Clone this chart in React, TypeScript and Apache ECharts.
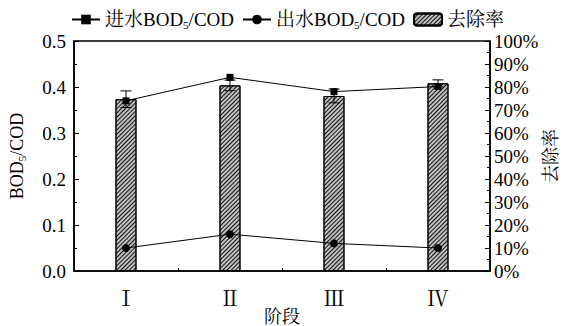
import React, { useEffect, useRef } from "react";
import * as echarts from "echarts";

const categories = ["Ⅰ", "Ⅱ", "Ⅲ", "Ⅳ"];
const inletRatio = [0.37, 0.421, 0.39, 0.401];
const outletRatio = [0.05, 0.08, 0.06, 0.05];
const removalRate = [74.7, 80.7, 76.1, 81.6];
const removalErr = [3.6, 2.3, 3.0, 1.5];

const seriesNames = ["进水BOD5/COD", "出水BOD5/COD", "去除率"];

const FONT = "'Times New Roman', 'Liberation Serif', 'Noto Serif CJK SC', 'Noto Sans CJK SC', serif";

export default function App() {
  const ref = useRef<HTMLDivElement>(null);
  useEffect(() => {
    document.body.style.margin = "0";
    const chart = echarts.init(ref.current!, null, { renderer: "svg" });
    const errData = removalRate.map((v, i) => [i, v - removalErr[i], v + removalErr[i]]);
    const subRich = {
      sub: { fontSize: 11, fontFamily: FONT, color: "#000", padding: [10, 0, 0, 0] },
    };
    const option: any = {
      animation: false,
      backgroundColor: "#fff",
      textStyle: { fontFamily: FONT, color: "#000" },
      grid: {
        left: 74,
        right: 77,
        top: 41,
        bottom: 55,
        containLabel: false,
        outerBoundsMode: "none",
        show: true,
        borderColor: "#000",
        borderWidth: 1.5,
      },
      legend: {
        data: seriesNames,
        left: 66,
        top: 5,
        itemWidth: 28,
        itemHeight: 12,
        itemGap: 8,
        textStyle: { fontSize: 19, fontFamily: FONT, color: "#000", rich: subRich },
        formatter: (name: string) => name.replace("BOD5", "BOD{sub|5}"),
      },
      xAxis: [
        {
          type: "category",
          data: categories,
          name: "阶段",
          nameLocation: "middle",
          nameGap: 37,
          nameMoveOverlap: false,
          nameTextStyle: { fontSize: 18, fontFamily: FONT, color: "#000" },
          axisLine: { show: true, lineStyle: { color: "#000", width: 1.5 } },
          axisTick: { show: true, inside: true, alignWithLabel: true, length: 4, lineStyle: { color: "#000" } },
          axisLabel: { fontSize: 21, fontFamily: FONT, color: "#000", margin: 17 },
          splitLine: { show: false },
        },
        {
          type: "category",
          data: categories,
          position: "bottom",
          axisLine: { show: false },
          axisTick: { show: true, inside: true, length: 3, lineStyle: { color: "#000" } },
          axisLabel: { show: false },
          splitLine: { show: false },
        },
      ],
      yAxis: [
        {
          type: "value",
          min: 0,
          max: 0.5,
          interval: 0.1,
          name: "BOD{sub|5}/COD",
          nameLocation: "middle",
          nameGap: 47,
          nameMoveOverlap: false,
          nameTextStyle: { fontSize: 18, fontFamily: FONT, color: "#000", rich: { sub: { fontSize: 11, fontFamily: FONT, color: "#000", padding: [10, 0, 0, 0] } } },
          axisLine: { show: true, lineStyle: { color: "#000", width: 1.5 } },
          axisTick: { show: true, inside: true, length: 5, lineStyle: { color: "#000" } },
          minorTick: { show: true, splitNumber: 2, length: 3, lineStyle: { color: "#000" } },
          axisLabel: { fontSize: 19, fontFamily: FONT, color: "#000", margin: 8, formatter: (v: number) => v.toFixed(1) },
          splitLine: { show: false },
        },
        {
          type: "value",
          min: 0,
          max: 100,
          interval: 10,
          position: "right",
          name: "去除率",
          nameLocation: "middle",
          nameGap: 52,
          nameRotate: 90,
          nameMoveOverlap: false,
          nameTextStyle: { fontSize: 18, fontFamily: FONT, color: "#000" },
          axisLine: { show: true, lineStyle: { color: "#000", width: 1.5 } },
          axisTick: { show: true, inside: true, length: 5, lineStyle: { color: "#000" } },
          minorTick: { show: true, splitNumber: 2, length: 3, lineStyle: { color: "#000" } },
          axisLabel: { fontSize: 19, fontFamily: FONT, color: "#000", margin: 4, formatter: "{value}%" },
          splitLine: { show: false },
        },
      ],
      series: [
        {
          name: "去除率",
          type: "bar",
          yAxisIndex: 1,
          barWidth: 21,
          data: removalRate,
          z: 2,
          itemStyle: {
            color: "#c0c0c0",
            borderColor: "#000",
            borderWidth: 1,
            decal: {
              symbol: "rect",
              symbolSize: 1,
              dashArrayX: [1, 0],
              dashArrayY: [1, 2],
              rotation: -Math.PI / 4,
              color: "#111",
            },
          },
        },
        {
          name: "errorbar",
          type: "custom",
          yAxisIndex: 1,
          z: 3,
          data: errData,
          encode: { x: 0, y: [1, 2] },
          renderItem: (params: any, api: any) => {
            const x = api.value(0);
            const lo = api.coord([x, api.value(1)]);
            const hi = api.coord([x, api.value(2)]);
            const h = 5.5;
            const st = { stroke: "#000", lineWidth: 1 };
            return {
              type: "group",
              children: [
                { type: "line", shape: { x1: hi[0], y1: hi[1], x2: lo[0], y2: lo[1] }, style: st },
                { type: "line", shape: { x1: hi[0] - h, y1: hi[1], x2: hi[0] + h, y2: hi[1] }, style: st },
                { type: "line", shape: { x1: lo[0] - h, y1: lo[1], x2: lo[0] + h, y2: lo[1] }, style: st },
              ],
            };
          },
        },
        {
          name: "进水BOD5/COD",
          type: "line",
          yAxisIndex: 0,
          data: inletRatio,
          z: 4,
          symbol: "rect",
          symbolSize: 7,
          lineStyle: { color: "#000", width: 1 },
          itemStyle: { color: "#000" },
        },
        {
          name: "出水BOD5/COD",
          type: "line",
          yAxisIndex: 0,
          data: outletRatio,
          z: 4,
          symbol: "circle",
          symbolSize: 8,
          lineStyle: { color: "#000", width: 1 },
          itemStyle: { color: "#000" },
        },
      ],
    };
    chart.setOption(option);
    return () => chart.dispose();
  }, []);
  return <div ref={ref} style={{ width: 567, height: 326 }} />;
}
